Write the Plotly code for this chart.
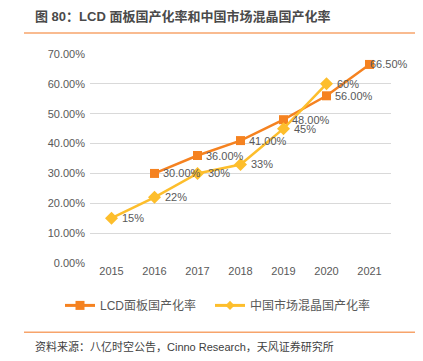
import plotly.graph_objects as go

years = ["2015", "2016", "2017", "2018", "2019", "2020", "2021"]
lcd_years = ["2016", "2017", "2018", "2019", "2020", "2021"]
lcd_vals = [30.0, 36.0, 41.0, 48.0, 56.0, 66.5]
lcd_labels = ["30.00%", "36.00%", "41.00%", "48.00%", "56.00%", "66.50%"]
mix_years = ["2015", "2016", "2017", "2018", "2019", "2020"]
mix_vals = [15, 22, 30, 33, 45, 60]
mix_labels = ["15%", "22%", "30%", "33%", "45%", "60%"]
y_ticks = [0, 10, 20, 30, 40, 50, 60, 70]
y_tick_text = ["0.00%", "10.00%", "20.00%", "30.00%", "40.00%", "50.00%", "60.00%", "70.00%"]

ORANGE = "#F58220"
YELLOW = "#FDBE2C"
GRAY = "#595959"
FONT = "Liberation Sans, Arial, Noto Sans CJK SC, sans-serif"

# page body has an 8px default margin; size the figure to fill the window
OFF = 8
W, H = 423 - OFF, 361 - OFF
# plot area in window pixels: x 90..391, y 54..263.5
L = 90 - OFF
T = 54 - OFF
R = W - (391 - OFF)
B = H - (263.5 - OFF)
pw, ph = W - L - R, H - T - B

def px_x(p):
    return (p - OFF - L) / pw

def px_y(p):
    return (H - B - (p - OFF)) / ph

fig = go.Figure()
fig.add_trace(go.Scatter(
    x=lcd_years, y=lcd_vals, name="LCD面板国产化率", mode="lines+markers",
    line=dict(color=ORANGE, width=2.5),
    marker=dict(symbol="square", size=9, color=ORANGE),
    showlegend=False,
))
fig.add_trace(go.Scatter(
    x=mix_years, y=mix_vals, name="中国市场混晶国产化率", mode="lines+markers",
    line=dict(color=YELLOW, width=2.5),
    marker=dict(symbol="diamond", size=10, color=YELLOW),
    showlegend=False,
))
# legend entries (smaller legend symbols, as in the reference)
fig.add_trace(go.Scatter(
    x=[None], y=[None], name="LCD面板国产化率", mode="lines+markers",
    line=dict(color=ORANGE, width=3),
    marker=dict(symbol="square", size=9, color=ORANGE),
    legend="legend", hoverinfo="skip",
))
fig.add_trace(go.Scatter(
    x=[None], y=[None], name="中国市场混晶国产化率", mode="lines+markers",
    line=dict(color=YELLOW, width=3),
    marker=dict(symbol="diamond", size=7, color=YELLOW),
    legend="legend2", hoverinfo="skip",
))

annotations = []
for i, (x, y, t) in enumerate(zip(lcd_years, lcd_vals, lcd_labels)):
    shift = 6 if i < len(lcd_years) - 1 else -2
    annotations.append(dict(x=years.index(x), y=y, text=t, xref="x", yref="y", showarrow=False,
                            xanchor="left", yanchor="middle", xshift=shift,
                            font=dict(size=11, color=GRAY, family=FONT)))
for x, y, t in zip(mix_years, mix_vals, mix_labels):
    annotations.append(dict(x=years.index(x), y=y, text=t, xref="x", yref="y", showarrow=False,
                            xanchor="left", yanchor="middle", xshift=8,
                            font=dict(size=11, color=GRAY, family=FONT)))

annotations.append(dict(x=px_x(33), y=px_y(16), xref="paper", yref="paper",
                        text="<b>图 80：LCD 面板国产化率和中国市场混晶国产化率</b>",
                        showarrow=False, xanchor="left", yanchor="middle",
                        font=dict(size=13, color="#4a4a4a", family=FONT)))
annotations.append(dict(x=px_x(33), y=px_y(347), xref="paper", yref="paper",
                        text="资料来源：八亿时空公告，Cinno Research，天风证券研究所",
                        showarrow=False, xanchor="left", yanchor="middle",
                        font=dict(size=11, color="#404040", family=FONT)))

shapes = []
for ypix in (33, 333):
    shapes.append(dict(type="line", xref="paper", yref="paper",
                       x0=px_x(24), x1=px_x(417), y0=px_y(ypix), y1=px_y(ypix),
                       line=dict(color="#F7A46B", width=1.5)))

leg_common = dict(orientation="h", yanchor="middle", xanchor="left",
                  font=dict(size=12, color=GRAY, family=FONT),
                  bgcolor="rgba(0,0,0,0)", itemwidth=30)

fig.update_layout(
    width=W, height=H,
    margin=dict(l=L, r=R, t=T, b=B, autoexpand=False),
    paper_bgcolor="white", plot_bgcolor="white",
    font=dict(family=FONT, color=GRAY, size=11),
    showlegend=True,
    legend=dict(x=px_x(60), y=px_y(306), **leg_common),
    legend2=dict(x=px_x(210), y=px_y(306), **leg_common),
    annotations=annotations,
    shapes=shapes,
    xaxis=dict(type="category", categoryorder="array", categoryarray=years,
               range=[-0.5, len(years) - 0.5], automargin=False,
               showgrid=False, showline=False, zeroline=False, ticks="",
               tickfont=dict(size=11, color=GRAY)),
    yaxis=dict(range=[0, 70], tickvals=y_ticks, ticktext=y_tick_text, automargin=False,
               showgrid=True, gridcolor="#D9D9D9", gridwidth=1, zeroline=False,
               showline=False, ticks="", ticklabelstandoff=4,
               tickfont=dict(size=11, color=GRAY)),
)

fig.write_html("out.html")
